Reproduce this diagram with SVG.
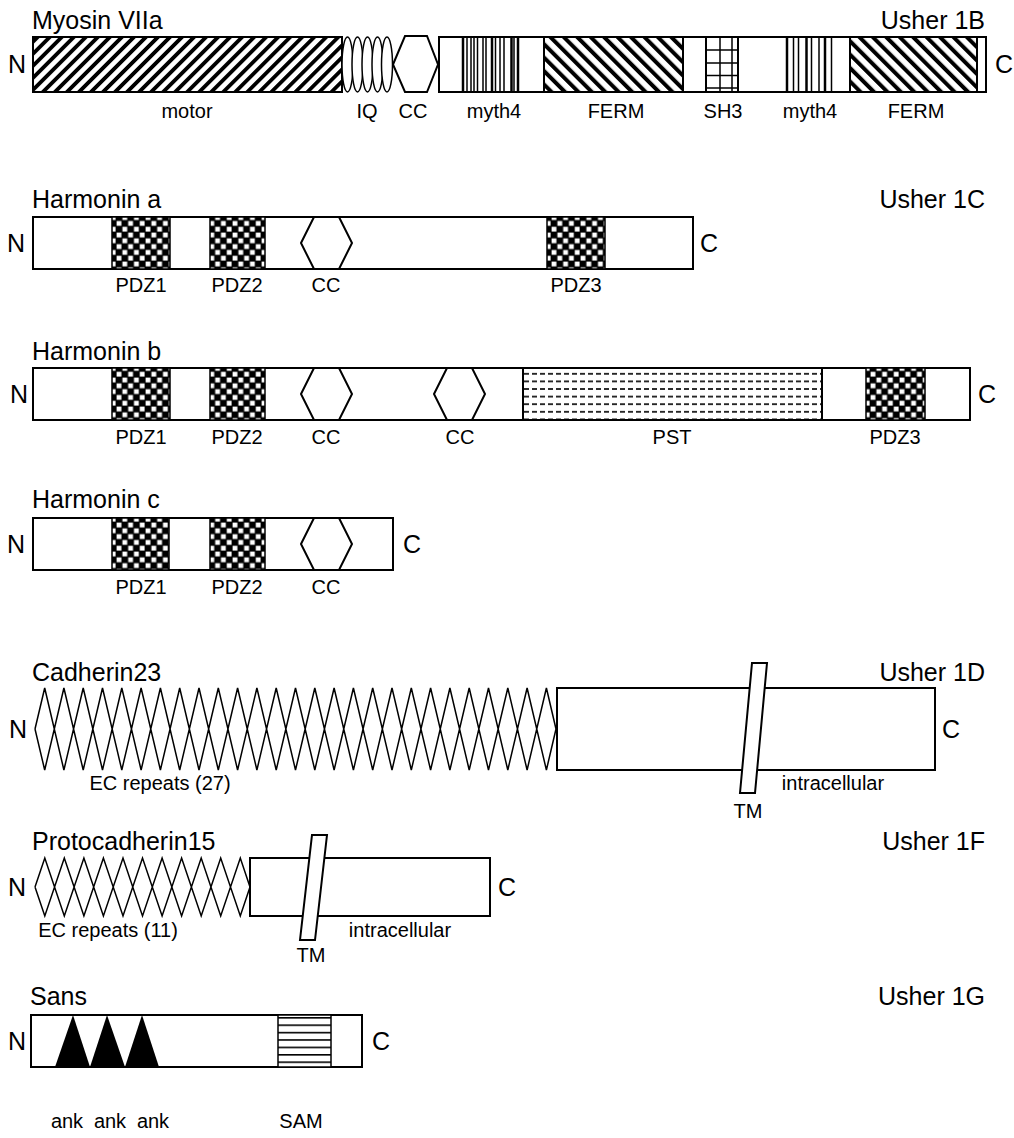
<svg xmlns="http://www.w3.org/2000/svg" width="1014" height="1138" viewBox="0 0 1014 1138">
<defs>
<pattern id="hatchF" patternUnits="userSpaceOnUse" width="8.5" height="8.5" patternTransform="rotate(45)"><rect x="0" y="0" width="3.8" height="8.5" fill="#000"/></pattern>
<pattern id="hatchB" patternUnits="userSpaceOnUse" width="9.5" height="9.5" patternTransform="rotate(-45)"><rect x="0" y="0" width="4" height="9.5" fill="#000"/></pattern>
<pattern id="checker" patternUnits="userSpaceOnUse" width="11.6" height="11.6"><rect width="11.6" height="11.6" fill="#000"/><rect x="0.6" y="0.6" width="4.8" height="4.8" fill="#fff"/><rect x="6.4" y="6.4" width="4.8" height="4.8" fill="#fff"/></pattern>
<pattern id="pst" patternUnits="userSpaceOnUse" x="523" y="370" width="8" height="7.6"><rect x="1" y="3" width="5" height="1.6" fill="#000"/></pattern>
<pattern id="sam" patternUnits="userSpaceOnUse" x="0" y="1054" width="10" height="7.4"><rect x="0" y="0" width="10" height="1.6" fill="#000"/></pattern>
</defs>
<style>
text{font-family:"Liberation Sans",Arial,sans-serif;fill:#000}
.t{font-size:25px}
.nc{font-size:25px}
.l{font-size:20px;text-anchor:middle}
.r{text-anchor:end}
.o{fill:#fff;stroke:#000;stroke-width:2}
.th{stroke:#000;stroke-width:1.5}
.thk{stroke:#000;stroke-width:2.5}
.ec{fill:none;stroke:#000;stroke-width:1.5;stroke-linejoin:miter}
</style>
<g id="connectors"/>

<g id="myosin7a">
<text class="t" x="32" y="29">Myosin VIIa</text>
<text class="t r" x="985" y="29">Usher 1B</text>
<text class="nc" x="8" y="73">N</text>
<text class="nc" x="995" y="73">C</text>
<rect x="33" y="37" width="309" height="55" fill="url(#hatchF)" stroke="#000" stroke-width="2"/>
<g class="o" style="stroke-width:1.5">
<ellipse cx="347.5" cy="64.5" rx="5.5" ry="27.5"/>
<ellipse cx="357.5" cy="64.5" rx="5.5" ry="27.5"/>
<ellipse cx="367.5" cy="64.5" rx="5.5" ry="27.5"/>
<ellipse cx="377.5" cy="64.5" rx="5.5" ry="27.5"/>
<ellipse cx="387" cy="64.5" rx="5.5" ry="27.5"/>
</g>
<polygon class="o" points="393,64.5 405,36 427,36 438,64.5 427,92 405,92"/>
<rect class="o" x="439" y="37" width="547" height="55"/>
<g class="th">
<line x1="463" y1="37" x2="463" y2="92" class="thk"/><line x1="467" y1="37" x2="467" y2="92"/><line x1="471" y1="37" x2="471" y2="92"/><line x1="474" y1="37" x2="474" y2="92"/><line x1="477.5" y1="37" x2="477.5" y2="92"/><line x1="483" y1="37" x2="483" y2="92"/><line x1="486" y1="37" x2="486" y2="92"/><line x1="492" y1="37" x2="492" y2="92" class="thk"/><line x1="495.5" y1="37" x2="495.5" y2="92"/><line x1="500" y1="37" x2="500" y2="92"/><line x1="504" y1="37" x2="504" y2="92"/><line x1="511.5" y1="37" x2="511.5" y2="92" class="thk"/><line x1="514" y1="37" x2="514" y2="92"/><line x1="518" y1="37" x2="518" y2="92" class="thk"/>
</g>
<rect x="544" y="37" width="139" height="55" fill="url(#hatchB)" stroke="#000" stroke-width="2"/>
<rect class="o" x="706" y="37" width="32" height="55"/>
<g class="th">
<line x1="720" y1="37" x2="720" y2="92"/><line x1="732" y1="37" x2="732" y2="92"/>
<line x1="706" y1="50" x2="738" y2="50"/><line x1="706" y1="63" x2="738" y2="63"/><line x1="706" y1="75.5" x2="738" y2="75.5"/><line x1="706" y1="88" x2="738" y2="88"/>
</g>
<g class="th">
<line x1="787" y1="37" x2="787" y2="92" class="thk"/><line x1="793.5" y1="37" x2="793.5" y2="92"/><line x1="798.5" y1="37" x2="798.5" y2="92"/><line x1="806.5" y1="37" x2="806.5" y2="92" class="thk"/><line x1="811.5" y1="37" x2="811.5" y2="92"/><line x1="819" y1="37" x2="819" y2="92"/><line x1="825" y1="37" x2="825" y2="92" class="thk"/><line x1="831.5" y1="37" x2="831.5" y2="92"/>
</g>
<rect x="850" y="37" width="127" height="55" fill="url(#hatchB)" stroke="#000" stroke-width="2"/>
<text class="l" x="187" y="118">motor</text>
<text class="l" x="367" y="118">IQ</text>
<text class="l" x="413" y="118">CC</text>
<text class="l" x="494" y="118">myth4</text>
<text class="l" x="616" y="118">FERM</text>
<text class="l" x="723" y="118">SH3</text>
<text class="l" x="810" y="118">myth4</text>
<text class="l" x="916" y="118">FERM</text>
</g>

<g id="harmonin-a">
<text class="t" x="32" y="208">Harmonin a</text>
<text class="t r" x="985" y="208">Usher 1C</text>
<text class="nc" x="7" y="252">N</text>
<text class="nc" x="700" y="252">C</text>
<rect class="o" x="33" y="217" width="660" height="52"/>
<rect x="112" y="217" width="58" height="52" fill="url(#checker)" stroke="#000" stroke-width="1.5"/>
<rect x="210" y="217" width="55" height="52" fill="url(#checker)" stroke="#000" stroke-width="1.5"/>
<polygon class="o" points="301,243 314,217 339,217 352,243 339,269 314,269"/>
<rect x="547" y="217" width="58" height="52" fill="url(#checker)" stroke="#000" stroke-width="1.5"/>
<text class="l" x="141" y="292">PDZ1</text>
<text class="l" x="237" y="292">PDZ2</text>
<text class="l" x="326" y="292">CC</text>
<text class="l" x="576" y="292">PDZ3</text>
</g>

<g id="harmonin-b">
<text class="t" x="32" y="360">Harmonin b</text>
<text class="nc" x="10" y="403">N</text>
<text class="nc" x="978" y="403">C</text>
<rect class="o" x="33" y="368" width="937" height="52"/>
<rect x="112" y="368" width="58" height="52" fill="url(#checker)" stroke="#000" stroke-width="1.5"/>
<rect x="210" y="368" width="55" height="52" fill="url(#checker)" stroke="#000" stroke-width="1.5"/>
<polygon class="o" points="301,394 314,368 339,368 352,394 339,420 314,420"/>
<polygon class="o" points="434,394 447,368 472,368 485,394 472,420 447,420"/>
<rect x="523" y="368" width="299" height="52" fill="#fff" stroke="#000" stroke-width="2"/>
<rect x="523" y="368" width="299" height="52" fill="url(#pst)"/>
<rect x="866" y="368" width="59" height="52" fill="url(#checker)" stroke="#000" stroke-width="1.5"/>
<text class="l" x="141" y="444">PDZ1</text>
<text class="l" x="237" y="444">PDZ2</text>
<text class="l" x="326" y="444">CC</text>
<text class="l" x="460" y="444">CC</text>
<text class="l" x="672" y="444">PST</text>
<text class="l" x="895" y="444">PDZ3</text>
</g>

<g id="harmonin-c">
<text class="t" x="32" y="508">Harmonin c</text>
<text class="nc" x="7" y="553">N</text>
<text class="nc" x="403" y="553">C</text>
<rect class="o" x="33" y="518" width="360" height="52"/>
<rect x="112" y="518" width="57" height="52" fill="url(#checker)" stroke="#000" stroke-width="1.5"/>
<rect x="210" y="518" width="55" height="52" fill="url(#checker)" stroke="#000" stroke-width="1.5"/>
<polygon class="o" points="301,544 314,518 339,518 352,544 339,570 314,570"/>
<text class="l" x="141" y="594">PDZ1</text>
<text class="l" x="237" y="594">PDZ2</text>
<text class="l" x="326" y="594">CC</text>
</g>

<g id="cadherin23">
<text class="t" x="32" y="681">Cadherin23</text>
<text class="t r" x="985" y="681">Usher 1D</text>
<text class="nc" x="9" y="738">N</text>
<text class="nc" x="942" y="738">C</text>
<path class="ec" d="M35,729 L44.7,688 L63.9,770 L83.2,688 L102.5,770 L121.8,688 L141.1,770 L160.4,688 L179.7,770 L199,688 L218.3,770 L237.6,688 L256.9,770 L276.2,688 L295.5,770 L314.8,688 L334.1,770 L353.4,688 L372.7,770 L392,688 L411.3,770 L430.6,688 L449.9,770 L469.2,688 L488.5,770 L507.8,688 L527.1,770 L546.4,688 L556,729 M35,729 L44.7,770 L63.9,688 L83.2,770 L102.5,688 L121.8,770 L141.1,688 L160.4,770 L179.7,688 L199,770 L218.3,688 L237.6,770 L256.9,688 L276.2,770 L295.5,688 L314.8,770 L334.1,688 L353.4,770 L372.7,688 L392,770 L411.3,688 L430.6,770 L449.9,688 L469.2,770 L488.5,688 L507.8,770 L527.1,688 L546.4,770 L556,729"/>
<rect class="o" x="557" y="688" width="378" height="82"/>
<polygon class="o" points="752,663 767,663 755,793 740,793"/>
<text class="l" x="160" y="790">EC repeats (27)</text>
<text class="l" x="833" y="790">intracellular</text>
<text class="l" x="748" y="818">TM</text>
</g>

<g id="protocadherin15">
<text class="t" x="32" y="850">Protocadherin15</text>
<text class="t r" x="985" y="850">Usher 1F</text>
<text class="nc" x="8" y="896">N</text>
<text class="nc" x="498" y="896">C</text>
<path class="ec" d="M35,887 L44.8,858 L64.3,916 L83.9,858 L103.4,916 L123,858 L142.5,916 L162.1,858 L181.6,916 L201.2,858 L220.7,916 L240.3,858 L250,887 M35,887 L44.8,916 L64.3,858 L83.9,916 L103.4,858 L123,916 L142.5,858 L162.1,916 L181.6,858 L201.2,916 L220.7,858 L240.3,916 L250,887"/>
<rect class="o" x="250" y="858" width="240" height="58"/>
<polygon class="o" points="312,835 327,835 315,940 300,940"/>
<text class="l" x="108" y="937">EC repeats (11)</text>
<text class="l" x="400" y="937">intracellular</text>
<text class="l" x="311" y="962">TM</text>
</g>

<g id="sans">
<text class="t" x="30" y="1005">Sans</text>
<text class="t r" x="985" y="1005">Usher 1G</text>
<text class="nc" x="8" y="1050">N</text>
<text class="nc" x="372" y="1050">C</text>
<rect class="o" x="31" y="1015" width="331" height="52"/>
<polygon points="55,1067 73,1015 90,1067" fill="#000"/>
<polygon points="90,1067 107,1015 125,1067" fill="#000"/>
<polygon points="125,1067 142,1015 159,1067" fill="#000"/>
<rect x="278" y="1015" width="53" height="52" fill="#fff" stroke="#000" stroke-width="1.5"/>
<rect x="278" y="1015" width="53" height="52" fill="url(#sam)"/>
<text class="l" x="67" y="1128">ank</text>
<text class="l" x="110" y="1128">ank</text>
<text class="l" x="153" y="1128">ank</text>
<text class="l" x="301" y="1128">SAM</text>
</g>
</svg>
